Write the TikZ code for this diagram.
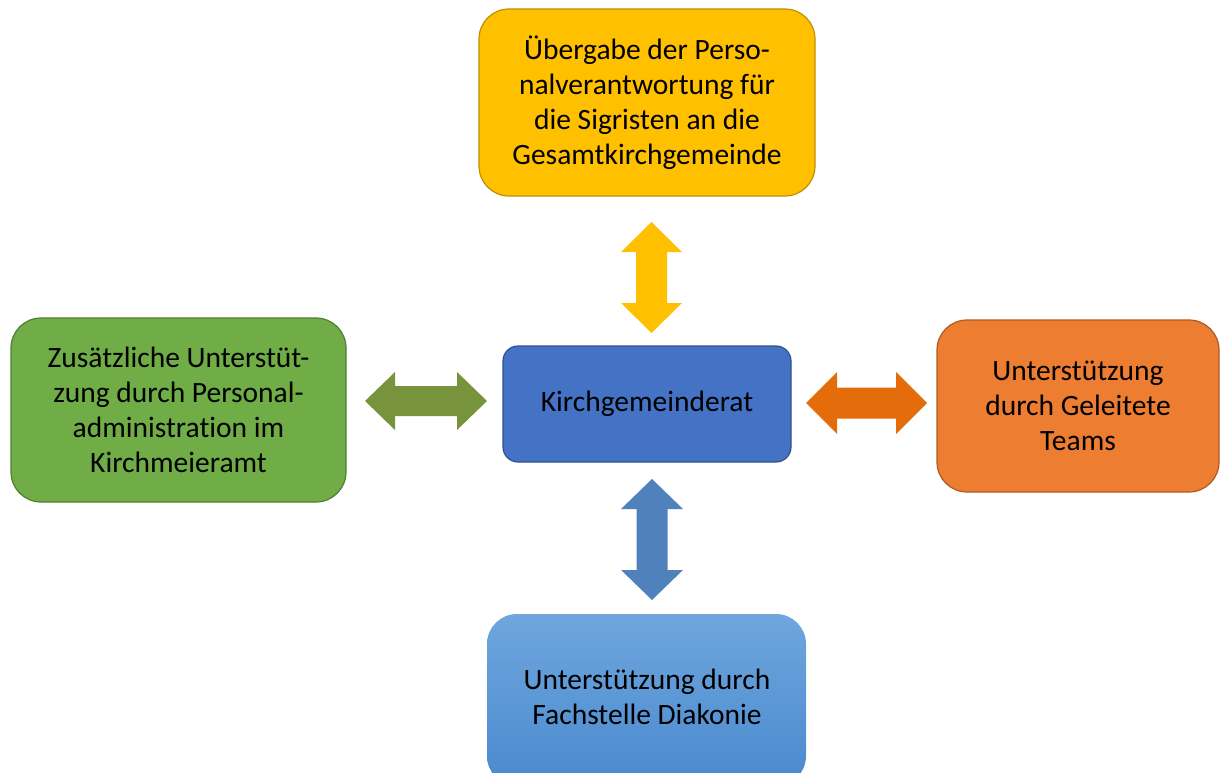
\documentclass[tikz,border=0pt]{standalone}
\usepackage{fontspec}
\setmainfont{Carlito}[Ligatures=NoCommon]
\definecolor{cyel}{HTML}{FFC000}
\definecolor{cyelb}{HTML}{C09000}
\definecolor{cblue}{HTML}{4472C4}
\definecolor{cblueb}{HTML}{2F528F}
\definecolor{cgreen}{HTML}{70AD47}
\definecolor{cgreenb}{HTML}{507E32}
\definecolor{corange}{HTML}{ED7D31}
\definecolor{coraneb}{HTML}{AE5A21}
\definecolor{cbtop}{HTML}{6FA7DD}
\definecolor{cbbot}{HTML}{4A89CF}
\definecolor{aryel}{HTML}{FFC000}
\definecolor{arblue}{HTML}{4F81BD}
\definecolor{argreen}{HTML}{77933C}
\definecolor{arorange}{HTML}{E46C0A}
\tikzset{
  box/.style={rounded corners=30pt, line width=1.2pt, align=center, inner sep=0pt,
    font=\fontsize{29.5}{35}\selectfont, text=black},
  blockarrow/.style={draw=none}
}
\begin{document}
\begin{tikzpicture}[x=1pt,y=-1pt]
\useasboundingbox (0,0) rectangle (1220,773);
\clip (0,0) rectangle (1220,773);
% boxes
\node[box, fill=cyel, draw=cyelb, minimum width=336pt, minimum height=187pt] (top) at (647,102.5)
  {Übergabe der Perso-\\nalverantwortung für\\die Sigristen an die\\Gesamtkirchgemeinde};
\node[box, rounded corners=15pt, fill=cblue, draw=cblueb, minimum width=288pt, minimum height=116pt] (mid) at (647,404)
  {Kirchgemeinderat};
\node[box, fill=cgreen, draw=cgreenb, minimum width=335pt, minimum height=184pt] (left) at (178.5,410)
  {Zusätzliche Unterstüt-\\zung durch Personal-\\administration im\\Kirchmeieramt};
\node[box, fill=corange, draw=coraneb, minimum width=282pt, minimum height=172pt] (right) at (1078,406)
  {Unterstützung\\durch Geleitete\\Teams};
\node[box, top color=cbtop, bottom color=cbbot, draw=none, minimum width=319pt, minimum height=172pt] (bot) at (646.5,700)
  {};
\node[font=\fontsize{29.5}{35}\selectfont, align=center, inner sep=0pt] (bottext) at (647,697)
  {Unterstützung durch\\Fachstelle Diakonie};
% block arrows
\coordinate (ta) at (651.5,222);
\coordinate (tb) at (651.5,333);
\fill[aryel] (ta) -- ++(30.5,30) -- ++(-15,0) -- ++(0,51) -- ++(15,0) -- (tb)
  -- ++(-30.5,-30) -- ++(15,0) -- ++(0,-51) -- ++(-15,0) -- cycle;
\coordinate (ba) at (652,479);
\coordinate (bb) at (652,600);
\fill[arblue] (ba) -- ++(31,30) -- ++(-15.5,0) -- ++(0,61) -- ++(15.5,0) -- (bb)
  -- ++(-31,-30) -- ++(15.5,0) -- ++(0,-61) -- ++(-15.5,0) -- cycle;
\coordinate (la) at (365,401);
\coordinate (lb) at (487,401);
\fill[argreen] (la) -- ++(30,-29) -- ++(0,14) -- ++(62,0) -- ++(0,-14) -- (lb)
  -- ++(-30,29) -- ++(0,-14) -- ++(-62,0) -- ++(0,14) -- cycle;
\coordinate (ra) at (806,403);
\coordinate (rb) at (927,403);
\fill[arorange] (ra) -- ++(31,-31) -- ++(0,15.5) -- ++(59,0) -- ++(0,-15.5) -- (rb)
  -- ++(-31,31) -- ++(0,-15.5) -- ++(-59,0) -- ++(0,15.5) -- cycle;
\end{tikzpicture}
\end{document}
